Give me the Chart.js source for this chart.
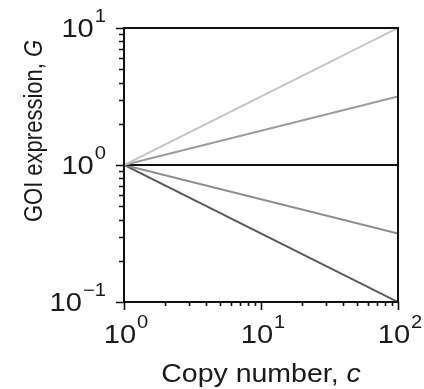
<!DOCTYPE html>
<html>
<head>
<meta charset="utf-8">
<script src="https://cdn.jsdelivr.net/npm/chart.js@4"></script>
<style>
  html, body { margin: 0; padding: 0; background: #fff; }
  canvas { display: block; }
</style>
</head>
<body>
<canvas id="goiChart" width="424" height="389"></canvas>
<script>
// copy number c (x) and GOI expression G (y) for each line
const copyNumbers = [1, 100];
const gSlopeUp1 = [1, 10];
const gSlopeUpHalf = [1, 3.16];
const gFlat = [1, 1];
const gSlopeDownHalf = [1, 0.316];
const gSlopeDown1 = [1, 0.1];

const lineColors = ['#c4c4c4', '#9a9a9a', '#111111', '#8c8c8c', '#575757'];

// tick positions and labels
const xMajorTicks = [1, 10, 100];
const xMajorExponents = ['0', '1', '2'];
const xMinorTicks = [2, 3, 4, 5, 6, 7, 8, 9, 20, 30, 40, 50, 60, 70, 80, 90];
const yMajorTicks = [0.1, 1, 10];
const yMajorExponents = ['\u22121', '0', '1'];
const yMinorTicks = [0.2, 0.3, 0.4, 0.5, 0.6, 0.7, 0.8, 0.9, 2, 3, 4, 5, 6, 7, 8, 9];

const xTitle = 'Copy number, ';
const xTitleVar = 'c';
const yTitle = 'GOI expression, ';
const yTitleVar = 'G';

const FONT = '"Liberation Sans", Arial, Helvetica, sans-serif';
const SX = 1.12; // text in the picture is a bit wider than plain Arial

function makeSeries(ys) {
    return copyNumbers.map((c, i) => ({ x: c, y: ys[i] }));
}

function textWidth(ctx, text, font) {
    ctx.font = font;
    return ctx.measureText(text).width;
}

function drawStretched(ctx, text, x, y, font, sx) {
    ctx.save();
    ctx.translate(x, y);
    ctx.scale(sx, 1);
    ctx.font = font;
    ctx.textAlign = 'left';
    ctx.textBaseline = 'alphabetic';
    ctx.fillText(text, 0, 0);
    ctx.restore();
}

// base "10" plus raised exponent, starting at x
function drawPower(ctx, exp, x, baseline) {
    const mainFont = '26px ' + FONT;
    const expFont = '18px ' + FONT;
    const w1 = textWidth(ctx, '10', mainFont) * SX;
    drawStretched(ctx, '10', x, baseline, mainFont, SX);
    drawStretched(ctx, exp, x + w1 + 1, baseline - 15, expFont, SX);
}

function powerWidth(ctx, exp) {
    return textWidth(ctx, '10', '26px ' + FONT) * SX + 1 + textWidth(ctx, exp, '18px ' + FONT) * SX;
}

const axesPlugin = {
    id: 'axesPlugin',
    afterDatasetsDraw(chart) {
        const ctx = chart.ctx;
        const area = chart.chartArea;
        const xs = chart.scales.x;
        const ys = chart.scales.y;

        ctx.save();
        ctx.strokeStyle = '#111';
        ctx.fillStyle = '#111';

        // box
        ctx.lineWidth = 2;
        ctx.beginPath();
        ctx.rect(area.left, area.top, area.right - area.left, area.bottom - area.top);
        ctx.stroke();

        // ticks
        ctx.lineWidth = 1.6;
        ctx.beginPath();
        xMajorTicks.forEach(v => {
            const px = Math.round(xs.getPixelForValue(v)) + 0.5;
            ctx.moveTo(px, area.bottom);
            ctx.lineTo(px, area.bottom + 8);
        });
        xMinorTicks.forEach(v => {
            const px = Math.round(xs.getPixelForValue(v)) + 0.5;
            ctx.moveTo(px, area.bottom);
            ctx.lineTo(px, area.bottom + 4);
        });
        yMajorTicks.forEach(v => {
            const py = Math.round(ys.getPixelForValue(v)) + 0.5;
            ctx.moveTo(area.left, py);
            ctx.lineTo(area.left - 8, py);
        });
        yMinorTicks.forEach(v => {
            const py = Math.round(ys.getPixelForValue(v)) + 0.5;
            ctx.moveTo(area.left, py);
            ctx.lineTo(area.left - 5, py);
        });
        ctx.stroke();

        // tick labels
        ctx.fillStyle = '#1a1a1a';
        xMajorTicks.forEach((v, i) => {
            const px = xs.getPixelForValue(v);
            const w = powerWidth(ctx, xMajorExponents[i]);
            drawPower(ctx, xMajorExponents[i], px - w / 2 + 2, area.bottom + 41);
        });
        yMajorTicks.forEach((v, i) => {
            const py = ys.getPixelForValue(v);
            const w = powerWidth(ctx, yMajorExponents[i]);
            drawPower(ctx, yMajorExponents[i], area.left - 18 - w, py + 9);
        });

        // x title
        const tFont = '25px ' + FONT;
        const tFontI = 'italic 25px ' + FONT;
        const wa = textWidth(ctx, xTitle, tFont) * 1.14;
        const wb = textWidth(ctx, xTitleVar, tFontI) * 1.14;
        const cx = (area.left + area.right) / 2;
        const x0 = cx - (wa + wb) / 2;
        drawStretched(ctx, xTitle, x0, 382, tFont, 1.14);
        drawStretched(ctx, xTitleVar, x0 + wa, 382, tFontI, 1.14);

        // y title (rotated)
        const yFont = '22px ' + FONT;
        const yFontI = 'italic 22px ' + FONT;
        const ya = textWidth(ctx, yTitle, yFont);
        const yb = textWidth(ctx, yTitleVar, yFontI);
        ctx.save();
        ctx.translate(42, 131);
        ctx.scale(1.15, 1);
        ctx.rotate(-Math.PI / 2);
        ctx.textBaseline = 'alphabetic';
        ctx.textAlign = 'left';
        const start = -(ya + yb) / 2;
        ctx.font = yFont;
        ctx.fillText(yTitle, start, 0);
        ctx.font = yFontI;
        ctx.fillText(yTitleVar, start + ya, 0);
        ctx.restore();

        ctx.restore();
    }
};

const seriesList = [gSlopeUp1, gSlopeUpHalf, gFlat, gSlopeDownHalf, gSlopeDown1];

new Chart(document.getElementById('goiChart'), {
    type: 'scatter',
    data: {
        datasets: seriesList.map((ys, i) => ({
            data: makeSeries(ys),
            showLine: true,
            borderColor: lineColors[i],
            borderWidth: 2,
            pointRadius: 0,
            fill: false,
        }))
    },
    options: {
        responsive: false,
        animation: false,
        layout: { padding: { left: 124, top: 28, right: 26, bottom: 87 } },
        plugins: { legend: { display: false }, tooltip: { enabled: false } },
        scales: {
            x: { type: 'logarithmic', min: 1, max: 100, display: false },
            y: { type: 'logarithmic', min: 0.1, max: 10, display: false }
        }
    },
    plugins: [axesPlugin]
});
</script>
</body>
</html>
